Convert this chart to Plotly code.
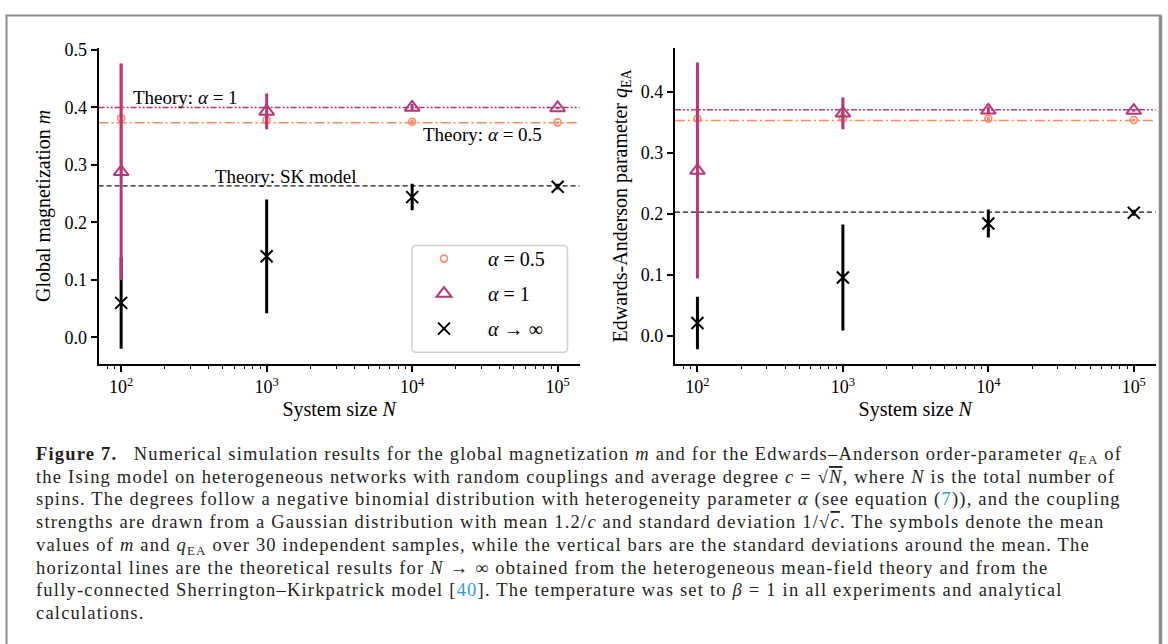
import plotly.graph_objects as go

# ---- data -------------------------------------------------------------
N = [1e2, 1e3, 1e4, 1e5]

# global magnetization m (mean and standard deviation over samples)
m_a05 = [0.381, 0.378, 0.375, 0.374]
m_a05_sd = [0.096, 0.010, 0.004, 0.002]
m_a1 = [0.288, 0.393, 0.400, 0.399]
m_a1_sd = [0.188, 0.031, 0.006, 0.002]
m_inf = [0.060, 0.141, 0.244, 0.262]
m_inf_sd = [0.080, 0.099, 0.023, 0.005]

# Edwards-Anderson parameter q_EA
q_a05 = [0.356, 0.358, 0.356, 0.354]
q_a05_sd = [0.080, 0.010, 0.003, 0.002]
q_a1 = [0.271, 0.365, 0.370, 0.3695]
q_a1_sd = [0.1775, 0.026, 0.006, 0.002]
q_inf = [0.0206, 0.0954, 0.184, 0.2016]
q_inf_sd = [0.043, 0.087, 0.023, 0.005]

# theoretical values for N -> infinity
m_theory = {"a05": 0.3735, "a1": 0.400, "sk": 0.2636}
q_theory = {"a05": 0.3534, "a1": 0.371, "sk": 0.2026}

xtick_vals = [1e2, 1e3, 1e4, 1e5]
xtick_text = ["10<sup>2</sup>", "10<sup>3</sup>", "10<sup>4</sup>", "10<sup>5</sup>"]
minor_vals = [80, 90] + [k * 10 ** e for e in (2, 3, 4) for k in range(2, 10)]

legend_names = ["<i>α</i> = 0.5", "<i>α</i> = 1", "<i>α</i> → ∞"]

caption_lines = [
    "<b>Figure 7.</b>\u2002 Numerical simulation results for the global magnetization <i>m</i> and for the Edwards–Anderson order-parameter <i>q</i><sub>EA</sub> of",
    "the Ising model on heterogeneous networks with random couplings and average degree <i>c</i> = √<span style='text-decoration:overline'><i>N</i></span>, where <i>N</i> is the total number of",
    "spins. The degrees follow a negative binomial distribution with heterogeneity parameter <i>α</i> (see equation (<span style='color:#2a9fd6'>7</span>)), and the coupling",
    "strengths are drawn from a Gaussian distribution with mean 1.2/<i>c</i> and standard deviation 1/√<span style='text-decoration:overline'><i>c</i></span>. The symbols denote the mean",
    "values of <i>m</i> and <i>q</i><sub>EA</sub> over 30 independent samples, while the vertical bars are the standard deviations around the mean. The",
    "horizontal lines are the theoretical results for <i>N</i> → ∞ obtained from the heterogeneous mean-field theory and from the",
    "fully-connected Sherrington–Kirkpatrick model [<span style='color:#2a9fd6'>40</span>]. The temperature was set to <i>β</i> = 1 in all experiments and analytical",
    "calculations.",
]

# ---- styling ------------------------------------------------------------
W, H = 1168, 644
ORANGE = "#fc8961"
MAGENTA = "#b73779"
BLACK = "#000000"
SERIF = "Liberation Serif"


def fx(px):
    return px / W


def fy(py):
    return 1 - py / H


fig = go.Figure()


def add_panel(xa, ya, a05, a05_sd, a1, a1_sd, inf, inf_sd, show):
    # draw order: alpha=0.5, alpha->inf, alpha=1 (magenta on top)
    fig.add_trace(go.Scatter(
        x=N, y=a05, mode="markers", name=legend_names[0], legendrank=1,
        xaxis=xa, yaxis=ya, showlegend=show, legendgroup="a",
        error_y=dict(type="data", array=a05_sd, thickness=3, width=0, color=ORANGE),
        marker=dict(symbol="circle-open", size=7, color=ORANGE, line=dict(width=1.6, color=ORANGE)),
    ))
    fig.add_trace(go.Scatter(
        x=N, y=inf, mode="markers", name=legend_names[2], legendrank=3,
        xaxis=xa, yaxis=ya, showlegend=show, legendgroup="c",
        error_y=dict(type="data", array=inf_sd, thickness=3, width=0, color=BLACK),
        marker=dict(symbol="x-thin-open", size=12, color=BLACK, line=dict(width=2, color=BLACK)),
    ))
    fig.add_trace(go.Scatter(
        x=N, y=a1, mode="markers", name=legend_names[1], legendrank=2,
        xaxis=xa, yaxis=ya, showlegend=show, legendgroup="b",
        error_y=dict(type="data", array=a1_sd, thickness=3, width=0, color=MAGENTA),
        marker=dict(symbol="triangle-up-open", size=13, color=MAGENTA, line=dict(width=2, color=MAGENTA)),
    ))


add_panel("x", "y", m_a05, m_a05_sd, m_a1, m_a1_sd, m_inf, m_inf_sd, True)
add_panel("x2", "y2", q_a05, q_a05_sd, q_a1, q_a1_sd, q_inf, q_inf_sd, False)

# theory lines spanning the full axis width
for xr, yr, th in (("x domain", "y", m_theory), ("x2 domain", "y2", q_theory)):
    fig.add_shape(type="line", xref=xr, yref=yr, x0=0, x1=1, y0=th["a1"], y1=th["a1"],
                  line=dict(color=MAGENTA, width=1.5, dash="6px,2px,2px,2px,2px,2px"), layer="below")
    fig.add_shape(type="line", xref=xr, yref=yr, x0=0, x1=1, y0=th["a05"], y1=th["a05"],
                  line=dict(color=ORANGE, width=1.5, dash="10px,3px,2px,3px"), layer="below")
    fig.add_shape(type="line", xref=xr, yref=yr, x0=0, x1=1, y0=th["sk"], y1=th["sk"],
                  line=dict(color="#111111", width=1.3, dash="5px,3px"), layer="below")

# labels of the theory lines
ann_font = dict(family=SERIF, size=19, color="black")
fig.add_annotation(x=2.067, y=0.4175, xref="x", yref="y", text="Theory: <i>α</i> = 1",
                   showarrow=False, xanchor="left", yanchor="middle", font=ann_font)
fig.add_annotation(x=4.058, y=0.3534, xref="x", yref="y", text="Theory: <i>α</i> = 0.5",
                   showarrow=False, xanchor="left", yanchor="middle", font=ann_font)
fig.add_annotation(x=2.628, y=0.280, xref="x", yref="y", text="Theory: SK model",
                   showarrow=False, xanchor="left", yanchor="middle", font=ann_font)

# legend frame with rounded corners
lx0, lx1, ly0, ly1, r = fx(412), fx(567.5), fy(348.5), fy(240.5), 4
rx, ry = r / W, r / H
fig.add_shape(
    type="path", xref="paper", yref="paper", layer="above",
    path=(f"M{lx0 + rx},{ly1} L{lx1 - rx},{ly1} Q{lx1},{ly1} {lx1},{ly1 - ry} "
          f"L{lx1},{ly0 + ry} Q{lx1},{ly0} {lx1 - rx},{ly0} L{lx0 + rx},{ly0} "
          f"Q{lx0},{ly0} {lx0},{ly0 + ry} L{lx0},{ly1 - ry} Q{lx0},{ly1} {lx0 + rx},{ly1} Z"),
    fillcolor="rgba(255,255,255,0.85)", line=dict(color="#d0d0d0", width=1.5),
)

# outer frame of the figure
fig.add_shape(type="rect", xref="paper", yref="paper", x0=fx(6.5), x1=fx(1160.5),
              y0=-0.1, y1=fy(7.5), line=dict(color="#8c8c8c", width=2))
fig.add_shape(type="line", xref="paper", yref="paper", x0=fx(1160.5), x1=fx(1160.5),
              y0=-0.1, y1=fy(7.5), line=dict(color="#8c8c8c", width=3.5))

# caption, one annotation per line
CAP_SIZE = 18.5
for i, ln in enumerate(caption_lines):
    baseline = 457 + 23.0 * i
    fig.add_annotation(
        x=fx(35), y=fy(baseline - 0.891 * CAP_SIZE), xref="paper", yref="paper",
        xanchor="left", yanchor="top", align="left", showarrow=False, borderpad=0,
        text=f"<span style='letter-spacing:1.2px'>{ln}</span>",
        font=dict(family=SERIF, size=CAP_SIZE, color="#231f20"),
    )

tick_font = dict(family=SERIF, size=18, color="black")
title_font = dict(family=SERIF, size=20, color="black")
common_x = dict(
    type="log", range=[1.845, 5.15], tickmode="array", tickvals=xtick_vals, ticktext=xtick_text,
    showline=True, linecolor="black", linewidth=2, ticks="outside", ticklen=6, tickwidth=1.6,
    tickcolor="black", showgrid=False, zeroline=False, tickfont=tick_font,
    minor=dict(tickmode="array", tickvals=minor_vals, ticks="outside", ticklen=3.5,
               tickwidth=1.2, tickcolor="black", showgrid=False),
    title=dict(text="System size <i>N</i>", font=title_font, standoff=6),
)
common_y = dict(
    showline=True, linecolor="black", linewidth=2, ticks="outside", ticklen=6, tickwidth=1.6,
    tickcolor="black", showgrid=False, zeroline=False, tickfont=tick_font, tickformat=".1f",
    tickmode="linear", tick0=0, dtick=0.1,
)

fig.update_layout(
    width=W, height=H, margin=dict(l=0, r=0, t=0, b=0),
    paper_bgcolor="white", plot_bgcolor="white",
    xaxis=dict(domain=[fx(98.6), fx(579.5)], anchor="y", **common_x),
    yaxis=dict(domain=[fy(360), fy(40.7)], anchor="x", range=[-0.0455, 0.503],
               title=dict(text="Global magnetization <i>m</i>", font=title_font, standoff=8),
               **common_y),
    xaxis2=dict(domain=[fx(674.9), fx(1155.6)], anchor="y2", **common_x),
    yaxis2=dict(domain=[fy(360), fy(40.7)], anchor="x2", range=[-0.046, 0.472],
                title=dict(text="Edwards-Anderson parameter <i>q</i><sub>EA</sub>", font=title_font, standoff=8),
                **common_y),
    legend=dict(x=fx(400), y=fy(234), xanchor="left", yanchor="top", bgcolor="rgba(0,0,0,0)",
                borderwidth=0, font=dict(family=SERIF, size=20, color="black"),
                traceorder="grouped", tracegroupgap=6, itemwidth=78),
    showlegend=True,
)

fig.write_html("out.html")
